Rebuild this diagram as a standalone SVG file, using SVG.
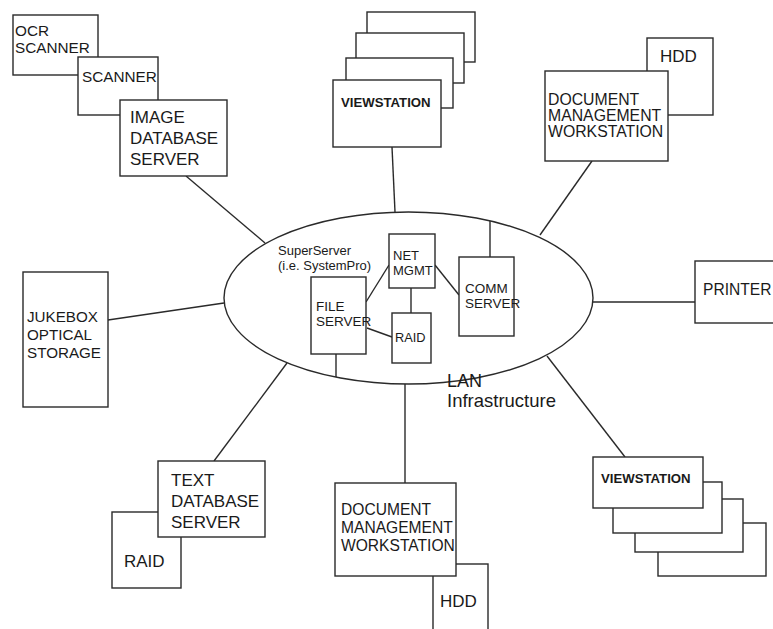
<svg xmlns="http://www.w3.org/2000/svg" width="773" height="629" viewBox="0 0 773 629">
<style>
.b{fill:#fff;stroke:#2a2a2a;stroke-width:1.4}
.l{stroke:#2a2a2a;stroke-width:1.4;fill:none}
text{font-family:"Liberation Sans",Arial,sans-serif;fill:#1a1a1a}
.vs{font-weight:bold;font-size:13.2px}
</style>
<rect width="773" height="629" fill="#fff"/>
<g id="connectors">
<line class="l" x1="186" y1="176" x2="265" y2="243"/>
<line class="l" x1="392" y1="147" x2="395" y2="212"/>
<line class="l" x1="592" y1="161" x2="540" y2="235"/>
<line class="l" x1="108" y1="320" x2="224" y2="303"/>
<line class="l" x1="593" y1="302" x2="695" y2="302"/>
<line class="l" x1="287" y1="363" x2="214" y2="461"/>
<line class="l" x1="405" y1="384" x2="405" y2="483"/>
<line class="l" x1="547" y1="356" x2="625" y2="457"/>
<line class="l" x1="366" y1="302" x2="389" y2="265"/>
<line class="l" x1="411" y1="288" x2="411" y2="313"/>
<line class="l" x1="367" y1="328" x2="392" y2="337"/>
<line class="l" x1="435" y1="265" x2="459" y2="295"/>
<line class="l" x1="490" y1="257" x2="490" y2="221"/>
<line class="l" x1="336" y1="354" x2="336" y2="377"/>
</g>
<g id="lan">
<ellipse class="l" cx="408.5" cy="298" rx="184.5" ry="86"/>
<text x="447" y="387" font-size="18">LAN</text>
<text x="447" y="407" font-size="18.5">Infrastructure</text>
<text x="278" y="255" font-size="13">SuperServer</text>
<text x="278" y="270" font-size="13">(i.e. SystemPro)</text>
</g>
<g id="net-mgmt">
<rect class="b" x="389" y="234" width="46" height="54"/>
<text x="393" y="260" font-size="13">NET</text>
<text x="393" y="275" font-size="13">MGMT</text>
</g>
<g id="file-server">
<rect class="b" x="311" y="277" width="55" height="77"/>
<text x="316" y="311" font-size="13.5">FILE</text>
<text x="316" y="326" font-size="13.5">SERVER</text>
</g>
<g id="raid-center">
<rect class="b" x="392" y="313" width="39" height="50"/>
<text x="395" y="342" font-size="12.8">RAID</text>
</g>
<g id="comm-server">
<rect class="b" x="459" y="257" width="55" height="79"/>
<text x="465" y="293" font-size="13.5">COMM</text>
<text x="465" y="308" font-size="13.5">SERVER</text>
</g>
<g id="ocr-scanner">
<rect class="b" x="13" y="15" width="85" height="60"/>
<text x="15" y="36" font-size="15.3">OCR</text>
<text x="15" y="53" font-size="15.3">SCANNER</text>
</g>
<g id="scanner">
<rect class="b" x="78" y="57" width="80" height="58"/>
<text x="82" y="82" font-size="15.3">SCANNER</text>
</g>
<g id="image-db-server">
<rect class="b" x="120" y="100" width="107" height="76"/>
<text x="130" y="123" font-size="17">IMAGE</text>
<text x="130" y="144" font-size="17">DATABASE</text>
<text x="130" y="165" font-size="17">SERVER</text>
</g>
<g id="viewstation-top">
<rect class="b" x="367" y="12" width="108" height="50"/>
<rect class="b" x="356" y="33" width="108" height="50"/>
<rect class="b" x="346" y="58" width="107" height="50"/>
<rect class="b" x="333" y="80" width="108" height="67"/>
<text class="vs" x="341" y="107">VIEWSTATION</text>
</g>
<g id="hdd-top">
<rect class="b" x="647" y="38" width="66" height="77"/>
<text x="660" y="62" font-size="17">HDD</text>
</g>
<g id="doc-mgmt-top">
<rect class="b" x="545" y="71" width="123" height="90"/>
<text x="548" y="105" font-size="15.8">DOCUMENT</text>
<text x="548" y="121" font-size="15.8">MANAGEMENT</text>
<text x="548" y="137" font-size="15.8">WORKSTATION</text>
</g>
<g id="jukebox">
<rect class="b" x="23" y="272" width="85" height="135"/>
<text x="27" y="322" font-size="15.2">JUKEBOX</text>
<text x="27" y="340" font-size="15.2">OPTICAL</text>
<text x="27" y="358" font-size="15.2">STORAGE</text>
</g>
<g id="printer">
<rect class="b" x="695" y="261" width="90" height="62"/>
<text x="703" y="295" font-size="15.6">PRINTER</text>
</g>
<g id="raid-bottom">
<rect class="b" x="112" y="512" width="69" height="76"/>
<text x="124" y="567" font-size="17">RAID</text>
</g>
<g id="text-db-server">
<rect class="b" x="158" y="461" width="107" height="76"/>
<text x="171" y="486" font-size="17">TEXT</text>
<text x="171" y="507" font-size="17">DATABASE</text>
<text x="171" y="528" font-size="17">SERVER</text>
</g>
<g id="hdd-bottom">
<rect class="b" x="433" y="564" width="55" height="80"/>
<text x="440" y="607" font-size="17">HDD</text>
</g>
<g id="doc-mgmt-bottom">
<rect class="b" x="335" y="483" width="121" height="93"/>
<text x="341" y="515" font-size="15.6">DOCUMENT</text>
<text x="341" y="533" font-size="15.6">MANAGEMENT</text>
<text x="341" y="551" font-size="15.6">WORKSTATION</text>
</g>
<g id="viewstation-bottom">
<rect class="b" x="658" y="523" width="108" height="53"/>
<rect class="b" x="635" y="499" width="108" height="53"/>
<rect class="b" x="613" y="482" width="109" height="51"/>
<rect class="b" x="593" y="457" width="110" height="51"/>
<text class="vs" x="601" y="483">VIEWSTATION</text>
</g>
</svg>
